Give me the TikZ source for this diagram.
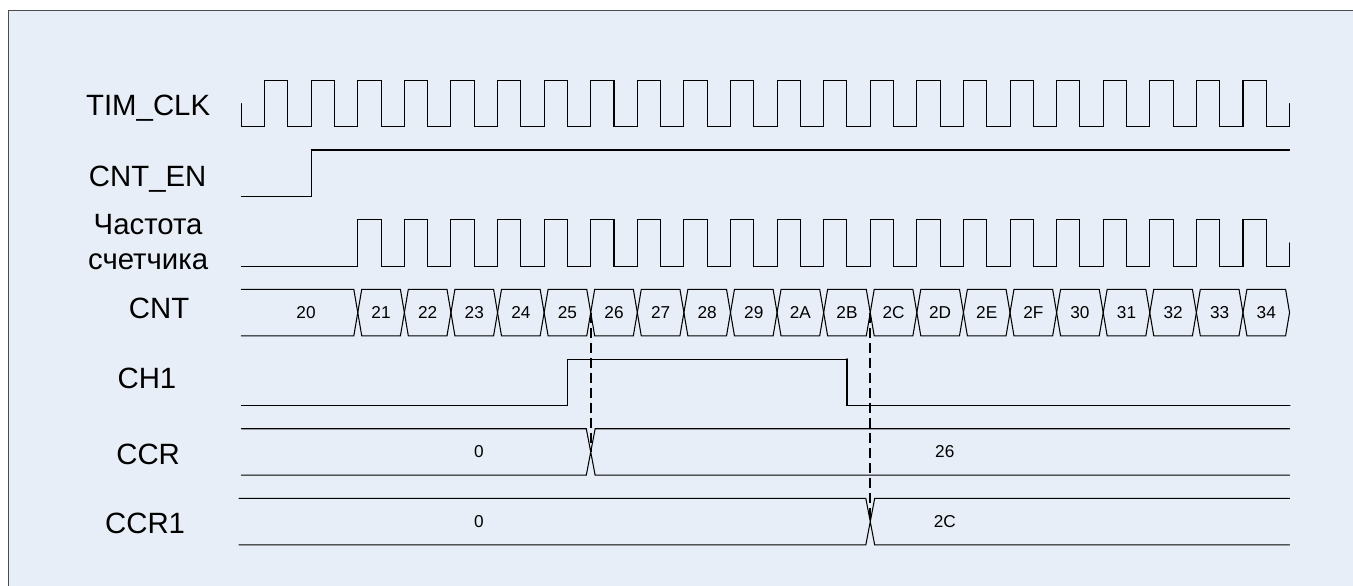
\documentclass[tikz,border=0pt]{standalone}
\usepackage{fontspec}
\setmainfont{Liberation Sans}
\definecolor{panel}{RGB}{232,238,247}
\begin{document}
\begin{tikzpicture}[x=0.4659cm,y=0.4646cm,line cap=round,
    wave/.style={line width=0.6pt},
    heavy/.style={line width=1.1pt},
    guide/.style={line width=1pt,line cap=butt,dash pattern=on 0.2cm off 0.1cm},
    lbl/.style={anchor=base,font=\fontsize{16.7}{19.9}\selectfont},
    num/.style={font=\fontsize{9.8}{12}\selectfont}]
  \useasboundingbox (-10.359,-1.769) rectangle (47.724,23.457);
  \fill[panel] (-10,-1.769) rectangle (47.724,23);
  \draw[line width=0.6pt,black!70,line cap=butt] (-10,-1.769) -- (-10,23) -- (47.724,23);
  % names of the signals
  \node[lbl] (clk) at (-4,18.5) {TIM\_CLK};
  \node[lbl] (en) at (-4.02,15.41) {CNT\_EN};
  \node[lbl,align=center] (frq) at (-4,11.84) {Частота\\счетчика};
  \node[lbl] (cnt) at (-3.53,9.74) {CNT};
  \node[lbl] (ch) at (-4.05,6.72) {CH1};
  \node[lbl] (ccr) at (-4,3.48) {CCR};
  \node[lbl] (ccra) at (-4.13,0.51) {CCR1};
  % clocks
  \draw[wave] (0,19) -- (0,18)
    \foreach \k in {0,...,21} { -- (2*\k+1,18) -- (2*\k+1,20) -- (2*\k+2,20) -- (2*\k+2,18) }
    -- (45,18) -- (45,19);
  \draw[wave] (0,15) -- (3,15) -- (3,17) -- (45,17);
  \draw[wave] (0,12)
    \foreach \k in {2,...,21} { -- (2*\k+1,12) -- (2*\k+1,14) -- (2*\k+2,14) -- (2*\k+2,12) }
    -- (45,12) -- (45,13);
  % counter values
  \draw[wave] (0,11) -- (4.83,11) -- (5,10) -- (4.83,9) -- (0,9);
  \node[num] (v20) at (2.78,10) {20};
  \foreach \v [count=\j from 0] in {21,22,23,24,25,26,27,28,29,2A,2B,2C,2D,2E,2F,30,31,32,33,34} {
    \pgfmathsetmacro\t{5+2*\j}
    \draw[wave] (\t,10) -- (\t+0.17,11) -- (\t+1.83,11) -- (\t+2,10) -- (\t+1.83,9) -- (\t+0.17,9) -- cycle;
    \node[num] (v\v) at (\t+1,10) {\v};
  }
  % output channel
  \draw[wave] (0,6) -- (14,6) -- (14,8) -- (26,8);
  \draw[heavy] (26,8) -- (26,6) -- (45,6);
  % compare registers
  \draw[wave] (0,5) -- (14.81,5) -- (15.19,3) -- (45,3)
              (0,3) -- (14.81,3) -- (15.19,5) -- (45,5);
  \node[num] (r0) at (10.2,4) {0};
  \node[num] (r26) at (30.2,4) {26};
  \draw[wave] (-0.1,2) -- (26.81,2) -- (27.19,0) -- (45,0)
              (-0.1,0) -- (26.81,0) -- (27.19,2) -- (45,2);
  \node[num] (s0) at (10.2,1) {0};
  \node[num] (s2C) at (30.2,1) {2C};
  % capture moments
  \coordinate (cnt26) at (15,10);
  \coordinate (ccr26) at (15,4);
  \coordinate (cnt2C) at (27,10);
  \coordinate (ccra2C) at (27,1);
  \draw[guide] (cnt26) -- (ccr26);
  \draw[guide] (cnt2C) -- (ccra2C);
\end{tikzpicture}
\end{document}
